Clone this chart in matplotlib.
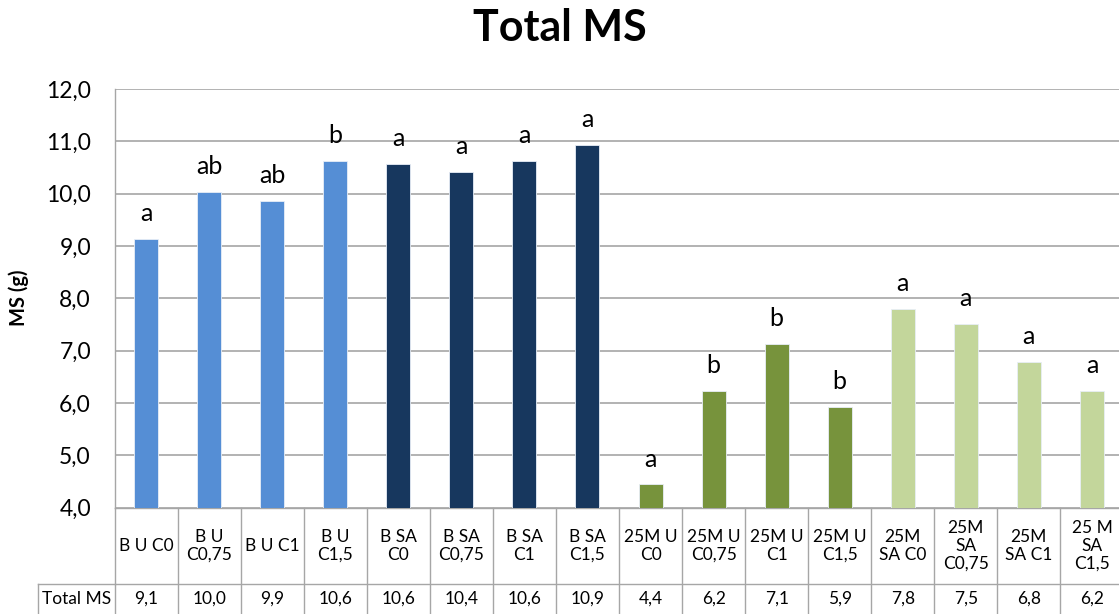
import matplotlib
matplotlib.use("Agg")
import matplotlib.pyplot as plt
from matplotlib.transforms import blended_transform_factory

# ---- data ----
categories = ["B U C0", "B U\nC0,75", "B U C1", "B U\nC1,5",
              "B SA\nC0", "B SA\nC0,75", "B SA\nC1", "B SA\nC1,5",
              "25M U\nC0", "25M U\nC0,75", "25M U\nC1", "25M U\nC1,5",
              "25M\nSA C0", "25M\nSA\nC0,75", "25M\nSA C1", "25 M\nSA\nC1,5"]
total_ms = [9.13, 10.04, 9.86, 10.62, 10.56, 10.41, 10.63, 10.93,
            4.44, 6.22, 7.13, 5.93, 7.80, 7.51, 6.79, 6.22]
letters = ["a", "ab", "ab", "b", "a", "a", "a", "a",
           "a", "b", "b", "b", "a", "a", "a", "a"]
group_colors = ["#558ED5"] * 4 + ["#17375E"] * 4 + ["#77933C"] * 4 + ["#C3D69B"] * 4
y_ticks = [4, 5, 6, 7, 8, 9, 10, 11, 12]
row_header = "Total MS"

plt.rcParams["font.family"] = ["Lato", "DejaVu Sans"]

W, H = 1119, 614
fig = plt.figure(figsize=(W / 100, H / 100), dpi=100)

def fx(px):
    return px / W

def fy(py):
    return 1 - py / H

ax_left, ax_right, ax_top, ax_bottom = 114.5, 1123.5, 89.0, 507.5
ax = fig.add_axes([fx(ax_left), fy(ax_bottom), fx(ax_right - ax_left),
                   (ax_bottom - ax_top) / H])

grid_col = "#A6A6A6"
x = list(range(len(categories)))
ax.bar(x, [v - 4 for v in total_ms], bottom=4, width=0.38,
       color=group_colors, edgecolor="#E8EEF7", linewidth=0.6, zorder=3)

for xi, v, lab in zip(x, total_ms, letters):
    ax.annotate(lab, (xi, v), xytext=(0, 10), textcoords="offset points",
                ha="center", va="bottom", fontsize=18, color="#000000")

ax.set_xlim(-0.5, len(categories) - 0.5)
ax.set_ylim(4, 12)
ax.set_yticks(y_ticks)
ax.set_yticklabels([f"{t:.1f}".replace(".", ",") for t in y_ticks], fontsize=16.5)
ax.tick_params(axis="y", length=0, pad=17)
ax.set_xticks([])
ax.yaxis.grid(True, color=grid_col, linewidth=1.2, zorder=0)
ax.set_axisbelow(True)
for side in ["top", "right"]:
    ax.spines[side].set_visible(False)
for side in ["left", "bottom"]:
    ax.spines[side].set_color(grid_col)
    ax.spines[side].set_linewidth(1.0)

ax.set_ylabel("MS (g)", fontsize=14.5, fontweight="bold", labelpad=12)

fig.text(0.5, fy(28), "Total MS", ha="center", va="center",
         fontsize=31, fontweight="bold")

# ---- data table below the plot ----
tr = blended_transform_factory(ax.transData, fig.transFigure)
row_split = fy(584)
for i in range(len(categories) + 1):
    ax.plot([i - 0.5, i - 0.5], [fy(ax_bottom), 0], transform=tr,
            color=grid_col, linewidth=1.0, clip_on=False)
ax.plot([-0.5, len(categories) - 0.5], [row_split, row_split], transform=tr,
        color=grid_col, linewidth=1.0, clip_on=False)
fig.add_artist(plt.Line2D([fx(38), fx(ax_left)], [row_split, row_split],
                          color=grid_col, linewidth=1.0))
fig.add_artist(plt.Line2D([fx(38), fx(38)], [row_split, 0],
                          color=grid_col, linewidth=1.0))

cat_mid = (fy(ax_bottom) + row_split) / 2
val_mid = fy(599)
for xi, cat, v in zip(x, categories, total_ms):
    ax.text(xi, cat_mid, cat, transform=tr, ha="center", va="center",
            fontsize=12.5, linespacing=1.15, clip_on=False)
    ax.text(xi, val_mid, f"{v:.1f}".replace(".", ","), transform=tr,
            ha="center", va="center", fontsize=12.5, clip_on=False)
fig.text(fx((38 + ax_left) / 2), val_mid, row_header, ha="center",
         va="center", fontsize=12.5)

fig.savefig("out.png", dpi=100)
